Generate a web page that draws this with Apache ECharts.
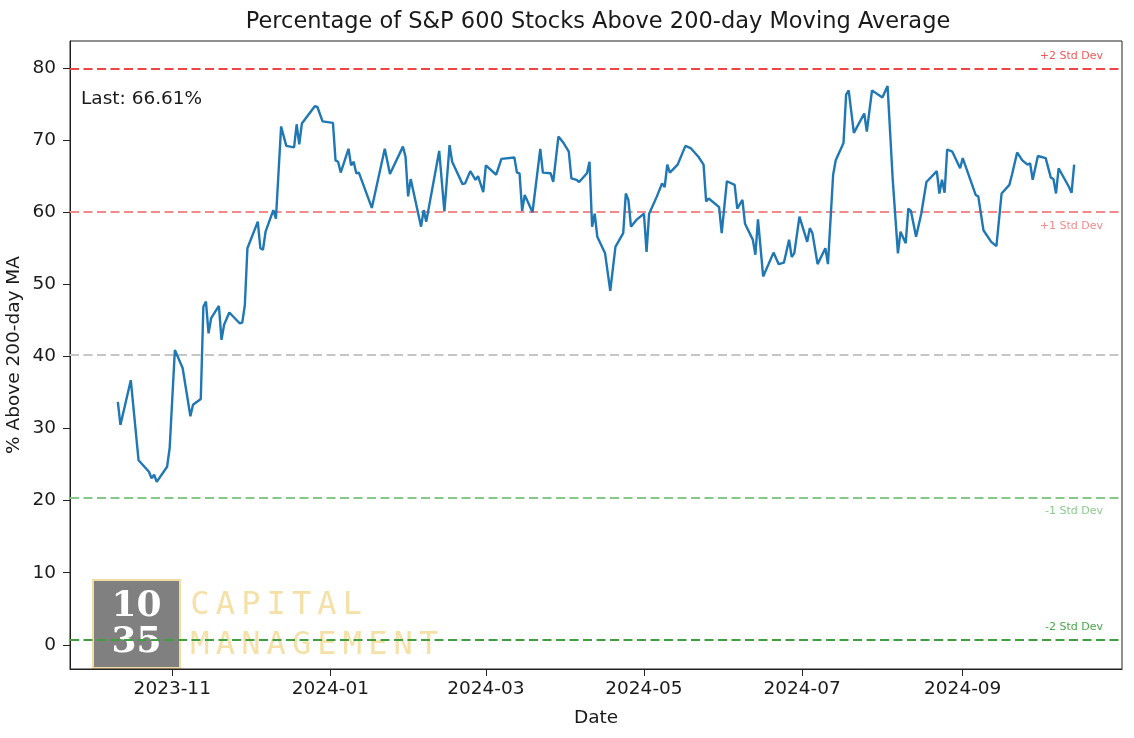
<!DOCTYPE html>
<html><head><meta charset="utf-8">
<script src="https://cdn.jsdelivr.net/npm/echarts@6/dist/echarts.min.js"></script>
<style>html,body{margin:0;padding:0;background:#fff;}#c{width:1134px;height:738px;}</style>
</head><body><div id="c"></div>
<script>
const dates = ['2023-10-11','2023-10-12','2023-10-16','2023-10-19','2023-10-23','2023-10-24','2023-10-25','2023-10-26','2023-10-30','2023-10-31',
'2023-11-02','2023-11-05','2023-11-08','2023-11-09','2023-11-12','2023-11-13','2023-11-14','2023-11-15','2023-11-16','2023-11-19',
'2023-11-20','2023-11-21','2023-11-23','2023-11-27','2023-11-28','2023-11-29','2023-11-30','2023-12-04','2023-12-05','2023-12-06',
'2023-12-07','2023-12-10','2023-12-11','2023-12-13','2023-12-15','2023-12-18','2023-12-19','2023-12-20','2023-12-21','2023-12-26',
'2023-12-27','2023-12-29','2024-01-02','2024-01-03','2024-01-04','2024-01-05','2024-01-08','2024-01-09','2024-01-10','2024-01-11',
'2024-01-12','2024-01-17','2024-01-22','2024-01-24','2024-01-29','2024-01-30','2024-01-31','2024-02-01','2024-02-05','2024-02-06',
'2024-02-07','2024-02-12','2024-02-14','2024-02-16','2024-02-17','2024-02-21','2024-02-22','2024-02-24','2024-02-26','2024-02-27',
'2024-02-29','2024-03-01','2024-03-05','2024-03-07','2024-03-12','2024-03-13','2024-03-14','2024-03-15','2024-03-16','2024-03-19',
'2024-03-22','2024-03-23','2024-03-26','2024-03-27','2024-03-29','2024-03-31','2024-04-02','2024-04-03','2024-04-05','2024-04-06',
'2024-04-09','2024-04-10','2024-04-11','2024-04-12','2024-04-13','2024-04-16','2024-04-18','2024-04-20','2024-04-23','2024-04-24',
'2024-04-25','2024-04-26','2024-04-28','2024-05-01','2024-05-02','2024-05-03','2024-05-06','2024-05-08','2024-05-09','2024-05-10',
'2024-05-11','2024-05-14','2024-05-17','2024-05-19','2024-05-22','2024-05-24','2024-05-25','2024-05-26','2024-05-30','2024-05-31',
'2024-06-02','2024-06-05','2024-06-06','2024-06-08','2024-06-09','2024-06-12','2024-06-13','2024-06-14','2024-06-16','2024-06-20',
'2024-06-22','2024-06-24','2024-06-26','2024-06-27','2024-06-28','2024-06-30','2024-07-03','2024-07-04','2024-07-05','2024-07-07',
'2024-07-10','2024-07-11','2024-07-13','2024-07-14','2024-07-17','2024-07-18','2024-07-19','2024-07-21','2024-07-25','2024-07-26',
'2024-07-28','2024-08-01','2024-08-03','2024-08-05','2024-08-07','2024-08-08','2024-08-10','2024-08-11','2024-08-12','2024-08-14',
'2024-08-16','2024-08-18','2024-08-22','2024-08-23','2024-08-24','2024-08-25','2024-08-26','2024-08-28','2024-08-31','2024-09-01',
'2024-09-06','2024-09-07','2024-09-09','2024-09-12','2024-09-14','2024-09-16','2024-09-19','2024-09-20','2024-09-22','2024-09-24',
'2024-09-26','2024-09-27','2024-09-28','2024-09-30','2024-10-03','2024-10-05','2024-10-06','2024-10-07','2024-10-08','2024-10-12',
'2024-10-13','2024-10-14'];
const values = [33.7,30.5,36.7,25.6,24.0,23.1,23.6,22.6,24.7,27.3,
40.9,38.4,31.7,33.3,34.1,46.9,47.6,43.2,45.3,47.0,
42.3,44.4,46.1,44.6,44.7,47.1,55.0,58.7,55.0,54.8,
57.3,60.3,59.1,71.9,69.2,69.0,72.2,69.4,72.3,74.7,
74.6,72.6,72.4,67.2,67.0,65.5,68.8,66.5,67.0,65.4,
65.5,60.6,68.8,65.3,69.1,67.7,62.2,64.6,58.0,60.3,
58.7,68.5,60.1,69.3,67.0,63.9,64.0,65.7,64.5,65.0,
62.8,66.5,65.2,67.4,67.6,65.5,65.4,60.2,62.4,60.0,
68.8,65.5,65.4,64.2,70.5,69.6,68.4,64.7,64.5,64.2,
65.4,67.0,58.0,59.8,56.6,54.3,49.1,55.2,57.1,62.6,
61.7,58.0,58.9,59.8,54.5,59.8,62.2,64.0,63.5,66.6,
65.5,66.6,69.2,68.9,67.7,66.6,61.5,61.9,60.7,57.1,
64.3,63.8,60.5,61.7,58.4,56.2,54.1,59.0,51.1,54.4,
52.8,53.0,56.2,53.8,54.3,59.4,55.9,57.8,57.1,52.8,
55.0,52.8,65.2,67.2,69.6,76.3,76.9,71.0,73.7,71.2,
76.9,75.9,77.5,64.5,54.3,57.3,55.7,60.5,60.2,56.6,
59.8,64.2,65.7,62.6,64.5,62.7,68.7,68.4,66.1,67.5,
62.4,62.2,57.5,55.9,55.3,62.6,63.8,65.2,68.3,67.2,
66.6,66.8,64.5,67.8,67.5,64.8,64.6,62.6,66.1,63.5,
62.7,66.61];
const bandNames = ['+2 Std Dev','+1 Std Dev','Mean','-1 Std Dev','-2 Std Dev'];
const bandValues = [79.85, 60.05, 40.25, 20.45, 0.65];
const bandColors = ['#f04545','#f38a8a','#c6c6c6','#86c886','#3f9f3f'];
const bandLabelColors = ['#ee5a5a','#f28c8c',null,'#8ccb8c','#4aa54a'];
const yTicks = [0,10,20,30,40,50,60,70,80];
const xTicks = ['2023-11-01','2024-01-01','2024-03-01','2024-05-01','2024-07-01','2024-09-01'];
const lastValue = 66.61;
const titleText = 'Percentage of S&P 600 Stocks Above 200-day Moving Average';

function ts(s, h) { const p = s.split('-').map(Number); return new Date(p[0], p[1]-1, p[2], h || 0).getTime(); }
const xMin = ts('2023-09-22', 13), xMax = ts('2024-11-01', 11);
const yMin = -3.35, yMax = 83.75;
const FONT = 'DejaVu Sans';
const TXT = '#1a1a1a';

const chart = echarts.init(document.getElementById('c'), null, {renderer: 'canvas'});
const lineData = dates.map((d, i) => [ts(d), values[i]]);
const xTickVals = xTicks.map(s => ts(s));

const option = {
  animation: false,
  backgroundColor: '#fff',
  title: { text: titleText, left: 593, top: 6, textAlign: 'center',
    textStyle: { fontFamily: FONT, fontSize: 22.5, fontWeight: 'normal', color: TXT } },
  grid: { left: 70, right: 12, top: 41, bottom: 69, show: true, borderColor: '#222', borderWidth: 1,
    containLabel: false, outerBoundsMode: 'none' },
  xAxis: {
    type: 'value', min: xMin, max: xMax, scale: true,
    name: 'Date', nameLocation: 'middle', nameGap: 40,
    nameTextStyle: { fontFamily: FONT, fontSize: 18.5, color: TXT },
    axisLine: { show: true, onZero: false, lineStyle: { color: '#222', width: 1 } },
    axisTick: { show: true, length: 7, lineStyle: { color: '#222' }, customValues: xTickVals },
    axisLabel: { fontFamily: FONT, fontSize: 18.5, color: TXT, margin: 11, customValues: xTickVals, hideOverlap: false,
      formatter: v => { const d = new Date(v); return d.getFullYear() + '-' + String(d.getMonth()+1).padStart(2,'0'); } },
    splitLine: { show: false }
  },
  yAxis: {
    type: 'value', min: yMin, max: yMax,
    name: '% Above 200-day MA', nameLocation: 'middle', nameGap: 46, nameRotate: 90, nameMoveOverlap: false,
    nameTextStyle: { fontFamily: FONT, fontSize: 18.5, color: TXT },
    axisLine: { show: true, onZero: false, lineStyle: { color: '#222', width: 1 } },
    axisTick: { show: true, length: 7, lineStyle: { color: '#222' }, customValues: yTicks },
    axisLabel: { fontFamily: FONT, fontSize: 18.5, color: TXT, margin: 14, customValues: yTicks },
    splitLine: { show: false }
  },
  series: [
    { type: 'line', name: 'bands', data: [], silent: true,
      markLine: { symbol: 'none', silent: true, animation: false,
        data: bandValues.map((v, i) => ({ yAxis: v, lineStyle: { color: bandColors[i], width: 2, type: [9, 4.5] }, label: { show: false } })) },
      z: 3 },
    { type: 'line', name: 'pct', data: lineData, showSymbol: false, symbol: 'none',
      lineStyle: { color: '#1f77b4', width: 2.4 }, z: 5 }
  ]
};
chart.setOption(option);

// decorations
const graphics = [];
const rightPx = chart.convertToPixel({xAxisIndex: 0, yAxisIndex: 0}, [xMax, 0])[0];
bandValues.forEach((v, i) => {
  if (!bandLabelColors[i]) return;
  const y = chart.convertToPixel({xAxisIndex: 0, yAxisIndex: 0}, [xMax, v])[1];
  const above = v > 70 || v < 10;
  graphics.push({ type: 'text', z: 10, style: { text: bandNames[i], x: rightPx - 19, y: above ? y - 13 : y + 14,
    textAlign: 'right', textVerticalAlign: 'middle', font: '11px ' + FONT, fill: bandLabelColors[i] } });
});
const leftPx = chart.convertToPixel({xAxisIndex: 0, yAxisIndex: 0}, [xMin, 0])[0];
graphics.push({ type: 'text', z: 10, style: { text: 'Last: ' + lastValue.toFixed(2) + '%', x: leftPx + 11, y: 99,
  textAlign: 'left', textVerticalAlign: 'middle', font: '18.5px ' + FONT, fill: TXT } });
// logo
graphics.push({ type: 'rect', z: -1, shape: { x: 93, y: 580, width: 87, height: 88 },
  style: { fill: '#808080', stroke: '#f1dca3', lineWidth: 2 } });
graphics.push({ type: 'text', z: -1, style: { text: '10', x: 136.5, y: 607, textAlign: 'center', textVerticalAlign: 'middle',
  font: 'bold 36px "DejaVu Serif"', fill: '#ffffff' } });
graphics.push({ type: 'text', z: -1, style: { text: '35', x: 136.5, y: 643, textAlign: 'center', textVerticalAlign: 'middle',
  font: 'bold 36px "DejaVu Serif"', fill: '#ffffff' } });
const w1 = 'CAPITAL', w2 = 'MANAGEMENT';
for (let k = 0; k < w1.length; k++) graphics.push({ type: 'text', z: -1, style: { text: w1[k], x: 200 + k * 25.4, y: 606,
  textAlign: 'center', textVerticalAlign: 'middle', font: '32px "DejaVu Sans Mono"', fill: '#f5e0a8' } });
for (let k = 0; k < w2.length; k++) graphics.push({ type: 'text', z: -1, style: { text: w2[k], x: 200 + k * 25.4, y: 646,
  textAlign: 'center', textVerticalAlign: 'middle', font: '32px "DejaVu Sans Mono"', fill: '#f5e0a8' } });
chart.setOption({ graphic: graphics });
</script></body></html>
